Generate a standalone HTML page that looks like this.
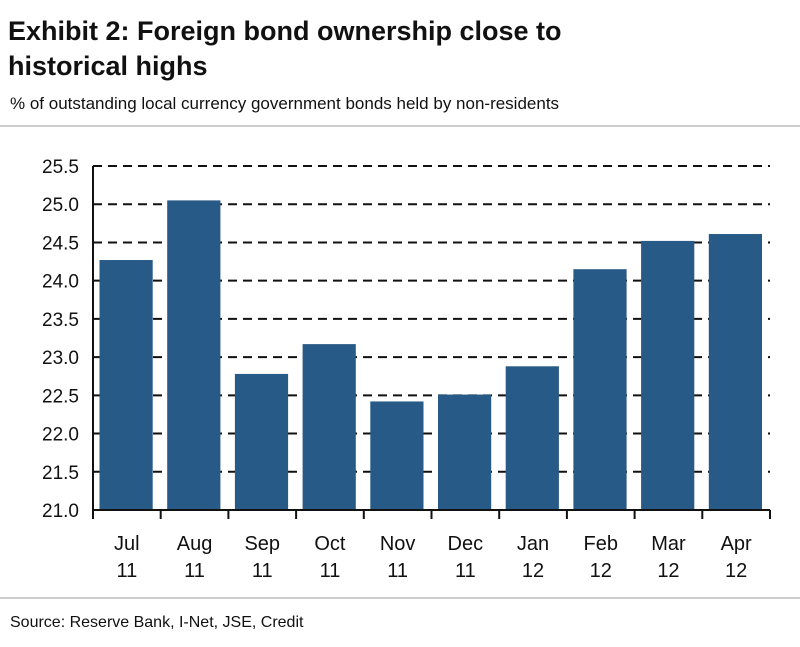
<!DOCTYPE html>
<html><head><meta charset="utf-8"><style>
body{margin:0;background:#fff;width:800px;height:642px;overflow:hidden;font-family:"Liberation Sans",Arial,sans-serif}
</style></head><body>
<svg width="800" height="642">
<text x="8" y="40" font-size="27" font-weight="bold" fill="#111">Exhibit 2: Foreign bond ownership close to</text>
<text x="8" y="75" font-size="27" font-weight="bold" fill="#111">historical highs</text>
<text x="10" y="109" font-size="17" fill="#111">% of outstanding local currency government bonds held by non-residents</text>
<line x1="0" y1="126" x2="800" y2="126" stroke="#999" stroke-width="1"/>
<g id="grid"></g><g id="bars"></g><g id="axes"></g>
<line x1="0" y1="598" x2="800" y2="598" stroke="#999" stroke-width="1"/>
<text x="10" y="627" font-size="16" fill="#111">Source: Reserve Bank, I-Net, JSE, Credit</text>
</svg>
<script>
const months=["Jul","Aug","Sep","Oct","Nov","Dec","Jan","Feb","Mar","Apr"];
const years=["11","11","11","11","11","11","12","12","12","12"];
const values=[24.27,25.05,22.78,23.17,22.42,22.51,22.88,24.15,24.52,24.61];
const yTicks=[21.0,21.5,22.0,22.5,23.0,23.5,24.0,24.5,25.0,25.5];
const NS="http://www.w3.org/2000/svg";
const x0=93,x1=770,yMin=21,yMax=25.5,py0=510,py1=166;
const Y=v=>py0-(v-yMin)/(yMax-yMin)*(py0-py1);
const bw=(x1-x0)/months.length;
const X=i=>x0+bw*i;
function mk(tag,attrs,parent){const e=document.createElementNS(NS,tag);for(const k in attrs)e.setAttribute(k,attrs[k]);document.getElementById(parent).appendChild(e);return e;}
yTicks.forEach(t=>{
 if(t>yMin){const g=mk('line',{x1:x0,x2:x1,y1:Y(t),y2:Y(t),stroke:'#111','stroke-width':2,'stroke-dasharray':'9,6'},'grid');
 
 }
 const l=mk('text',{x:x0-14,y:Y(t)+7,'text-anchor':'end','font-size':19,fill:'#111'},'axes');
 l.textContent=t.toFixed(1);
 
 
});
values.forEach((v,i)=>{
 const b=mk('rect',{x:X(i)+6.5,y:Y(v),width:bw-14.5,height:py0-Y(v),fill:'#285a87'},'bars');
 
 
 const t1=mk('text',{x:X(i)+bw/2,y:550,'text-anchor':'middle','font-size':20,fill:'#111'},'axes');
 t1.textContent=months[i];
 
 
 const t2=mk('text',{x:X(i)+bw/2,y:577,'text-anchor':'middle','font-size':20,fill:'#111'},'axes');
 t2.textContent=years[i];
 
 
});
for(let i=0;i<=months.length;i++){
 const tk=mk('line',{x1:X(i),x2:X(i),y1:py0,y2:py0+9,stroke:'#111','stroke-width':2},'axes');
 
 
}
const ya=mk('line',{x1:x0,x2:x0,y1:py1,y2:py0,stroke:'#111','stroke-width':2},'axes');


const xa=mk('line',{x1:x0,x2:x1,y1:py0,y2:py0,stroke:'#111','stroke-width':2},'axes');


</script>
</body></html>
